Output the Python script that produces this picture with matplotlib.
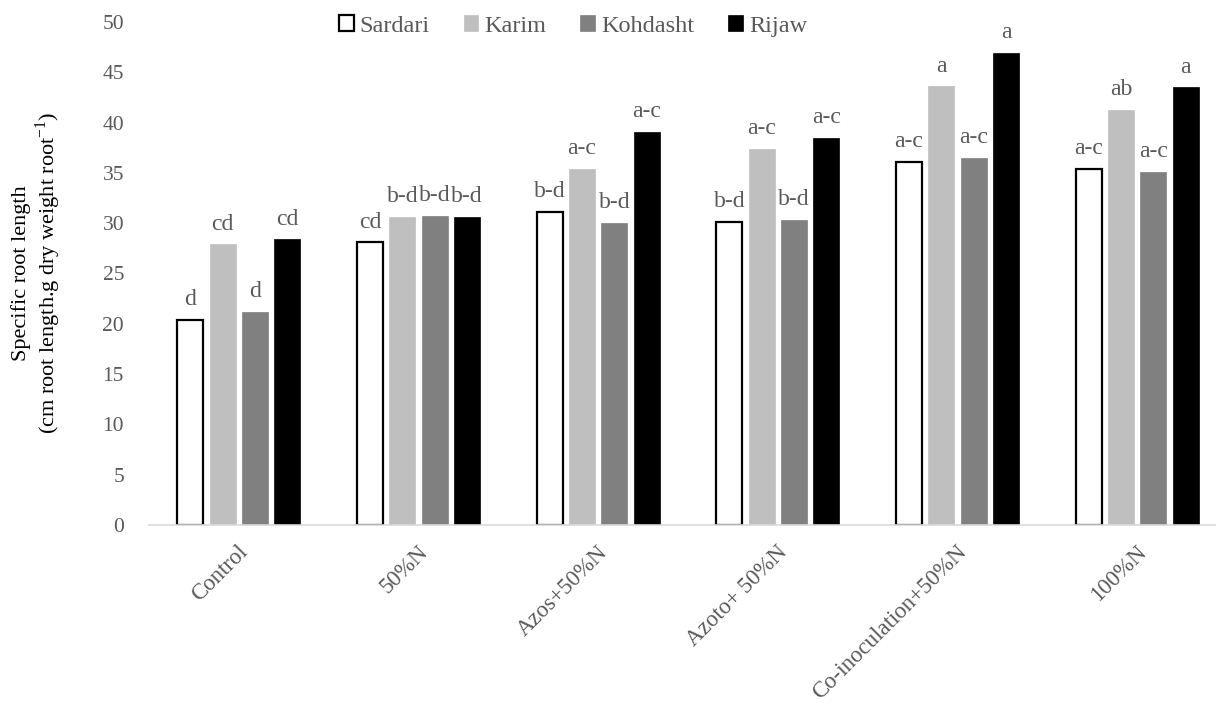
import numpy as np
import matplotlib.pyplot as plt
from matplotlib.patches import Patch

plt.rcParams['font.family'] = ['Liberation Serif', 'DejaVu Serif']

treatments = ['Control', '50%N', 'Azos+50%N', 'Azoto+ 50%N', 'Co-inoculation+50%N', '100%N']
cultivars = ['Sardari', 'Karim', 'Kohdasht', 'Rijaw']

sardari = [20.4, 28.1, 31.1, 30.1, 36.1, 35.4]
karim = [27.9, 30.6, 35.4, 37.4, 43.6, 41.3]
kohdasht = [21.2, 30.7, 30.0, 30.3, 36.5, 35.1]
rijaw = [28.4, 30.6, 39.1, 38.5, 46.9, 43.5]

letters_sardari = ['d', 'cd', 'b-d', 'b-d', 'a-c', 'a-c']
letters_karim = ['cd', 'b-d', 'a-c', 'a-c', 'a', 'ab']
letters_kohdasht = ['d', 'b-d', 'b-d', 'b-d', 'a-c', 'a-c']
letters_rijaw = ['cd', 'b-d', 'a-c', 'a-c', 'a', 'a']

series = [sardari, karim, kohdasht, rijaw]
letters = [letters_sardari, letters_karim, letters_kohdasht, letters_rijaw]
faces = ['white', '#BFBFBF', '#808080', 'black']
edges = ['black', '#BFBFBF', '#808080', 'black']
txt = '#595959'

fig = plt.figure(figsize=(12.16, 7.04), dpi=100)
ax = fig.add_axes([149/1216, 1 - 525/704, (1216-149)/1216, (525-22)/704])

x = np.arange(len(treatments))
step = 0.18
width = 0.144
for i, (vals, labs) in enumerate(zip(series, letters)):
    pos = x + (i - 1.5) * step
    lw = 1.6 if i == 0 else 0.5
    ax.bar(pos, vals, width, color=faces[i], edgecolor=edges[i], linewidth=lw, zorder=2)
    for px, v, lab in zip(pos, vals, labs):
        ax.annotate(lab, (px, v), xytext=(0, 7), textcoords='offset points',
                    ha='center', va='bottom', fontsize=17, color=txt)

ax.set_ylim(0, 50)
ax.set_yticks(np.arange(0, 51, 5))
ax.set_xlim(-0.5, 5.5 - 11/180)
ax.set_xticks(x)
ax.set_xticklabels([])
for xi, lab in zip(x, treatments):
    ax.annotate(lab, (xi, 0), xytext=(-1, -12), textcoords='offset points',
                rotation=45, ha='right', va='top', rotation_mode='anchor',
                fontsize=16.5, color=txt, annotation_clip=False)

for s in ['top', 'right', 'left']:
    ax.spines[s].set_visible(False)
ax.spines['bottom'].set_color('#D9D9D9')
ax.spines['bottom'].set_linewidth(1.2)
ax.tick_params(axis='both', length=0, labelsize=15.5, labelcolor=txt)
ax.tick_params(axis='y', pad=18)

fig.text(37/1216, 1 - 273/704,
         'Specific root length\n(cm root length.g dry weight root$^{\\mathregular{-1}}$)',
         rotation=90, ha='center', va='center', multialignment='center',
         fontsize=16, linespacing=1.1, color='black')

handles = [Patch(facecolor=faces[i], edgecolor='black' if i == 0 else faces[i],
                 linewidth=1.6 if i == 0 else 0.5) for i in range(4)]
leg = fig.legend(handles, cultivars, loc='center', bbox_to_anchor=(573/1216, 1 - 26/704),
                 ncol=4, frameon=False, fontsize=17.5, handlelength=0.6, handleheight=0.6,
                 handletextpad=0.25, columnspacing=1.4, labelcolor=txt)

fig.savefig('out.png', dpi=100)
